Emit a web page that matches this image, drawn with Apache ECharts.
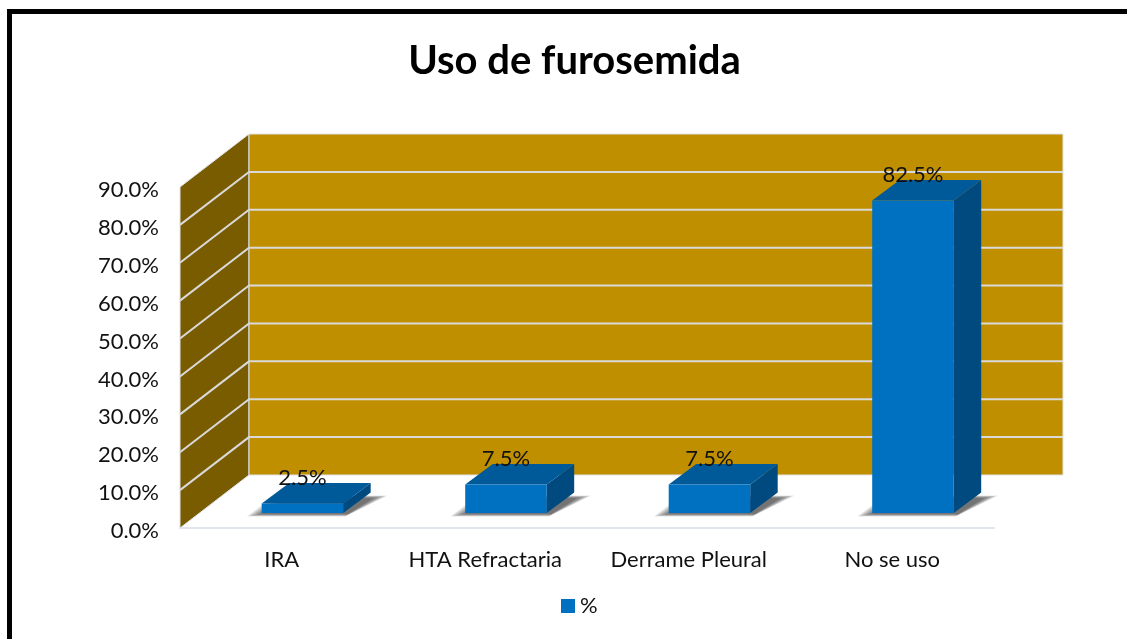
<!DOCTYPE html>
<html><head><meta charset="utf-8">
<style>html,body{margin:0;padding:0;background:#fff}#c{width:1127px;height:639px}</style>
<script src="https://cdn.jsdelivr.net/npm/echarts@6/dist/echarts.min.js"></script>
</head><body><div id="c"></div>
<script>
const categories = ['IRA', 'HTA Refractaria', 'Derrame Pleural', 'No se uso'];
const values = [2.5, 7.5, 7.5, 82.5];
const yTicks = [0, 10, 20, 30, 40, 50, 60, 70, 80, 90];
const FONT = 'Lato, "Noto Sans", sans-serif';
const WALL = [69, -53], BAR_OFF = [20.7, -15], BAR_DEPTH = [27.5, -20.5], BAR_W = 81.5;
const pts = a => ({ points: a });
const chart = echarts.init(document.getElementById('c'), null, { renderer: 'canvas' });
chart.setOption({
  animation: false,
  backgroundColor: '#fff',
  title: { text: 'Uso de furosemida', left: 569.5, top: 36, textAlign: 'center',
    textStyle: { fontFamily: FONT, fontSize: 40, fontWeight: 'bold', color: '#000' } },
  legend: { data: ['%'], left: 561, top: 595, padding: 0, itemWidth: 14, itemHeight: 14, itemGap: 5, icon: 'rect',
    textStyle: { fontFamily: FONT, fontSize: 22, color: '#111' } },
  grid: { left: 180, right: 133, top: 187, bottom: 111 },
  xAxis: { type: 'category', data: categories, axisTick: { show: false },
    axisLine: { lineStyle: { color: '#e1e5ec', width: 2 } },
    axisLabel: { margin: 21, fontFamily: FONT, fontSize: 22, color: '#111' }, splitLine: { show: false } },
  yAxis: { type: 'value', min: 0, max: 90, interval: 10, axisLine: { show: false }, axisTick: { show: false },
    splitLine: { show: false },
    axisLabel: { margin: 21, color: '#111', formatter: v => '{a|' + v.toFixed(1) + '%}',
      rich: { a: { fontFamily: FONT, fontSize: 22, color: '#111', padding: [6, 0, 0, 0] } } } },
  graphic: [{ type: 'polyline', silent: true, z: 100,
    shape: { points: [[9.5, 639], [9.5, 11.5], [1127, 11.5]] },
    style: { stroke: '#000', lineWidth: 5, fill: null } }],
  series: [
    { name: 'walls', type: 'custom', silent: true, clip: false, z: 1, data: [[0, 0]],
      renderItem(p, api) {
        const s = p.coordSys, b = s.y + s.height, t = s.y, l = s.x;
        const [dx, dy] = WALL;
        return { type: 'group', children: [
          { type: 'polygon', shape: pts([[l, b], [l + dx, b + dy], [l + dx, t + dy], [l, t]]),
            style: { fill: '#7a5c00', stroke: '#dfe3ea', lineWidth: 1 } },
          { type: 'polygon', shape: pts([[l + dx, b + dy], [l + dx + s.width, b + dy], [l + dx + s.width, t + dy], [l + dx, t + dy]]),
            style: { fill: '#bf8f00', stroke: '#dfe3ea', lineWidth: 1 } }
        ] };
      } },
    { name: 'grid', type: 'custom', silent: true, clip: false, z: 2, data: yTicks.slice(1, -1).map(v => [0, v]),
      renderItem(p, api) {
        const s = p.coordSys, y = api.coord([0, api.value(1)])[1];
        const [dx, dy] = WALL;
        return { type: 'polyline', shape: pts([[s.x, y], [s.x + dx, y + dy], [s.x + dx + s.width, y + dy]]),
          style: { stroke: '#d9d9d9', lineWidth: 2, fill: null } };
      } },
    { name: '%', type: 'custom', silent: true, clip: false, z: 3, itemStyle: { color: '#0070c0' },
      data: values.map((v, i) => [i, v]),
      renderItem(p, api) {
        const c = api.coord([api.value(0), api.value(1)]), o = api.coord([api.value(0), 0]);
        const x0 = c[0] + BAR_OFF[0] - BAR_W / 2, x1 = x0 + BAR_W;
        const yT = c[1] + BAR_OFF[1], yB = o[1] + BAR_OFF[1];
        const [dx, dy] = BAR_DEPTH;
        const shadow = [];
        for (let k = 0; k < 12; k++) {
          const h = k * 1.4, v = k * 0.25;
          shadow.push({ type: 'polygon', shape: pts([[x0 - 15 + h, yB + 3.5 - v], [x1 + 2 + h * 0.2, yB + 3.5 - v],
            [x1 + dx + 17 - h, yB + dy + 3 + v], [x0 + dx - 15 + h, yB + dy + 3 + v]]),
            style: { fill: 'rgba(60,60,60,0.09)' } });
        }
        return { type: 'group', children: shadow.concat([
          { type: 'polygon', shape: pts([[x1, yT], [x1 + dx, yT + dy], [x1 + dx, yB + dy], [x1, yB]]), style: { fill: '#004a7f' } },
          { type: 'polygon', shape: pts([[x0, yT], [x0 + dx, yT + dy], [x1 + dx, yT + dy], [x1, yT]]), style: { fill: '#005a9a' } },
          { type: 'rect', shape: { x: x0, y: yT, width: BAR_W, height: yB - yT }, style: { fill: '#0070c0' } },
          { type: 'text', z2: 10, style: { text: api.value(1).toFixed(1) + '%', x: c[0] + BAR_OFF[0], y: yT - 26, align: 'center', verticalAlign: 'middle',
              font: '22px ' + FONT, fill: '#111' } }
        ]) };
      } }
  ]
});
</script></body></html>
